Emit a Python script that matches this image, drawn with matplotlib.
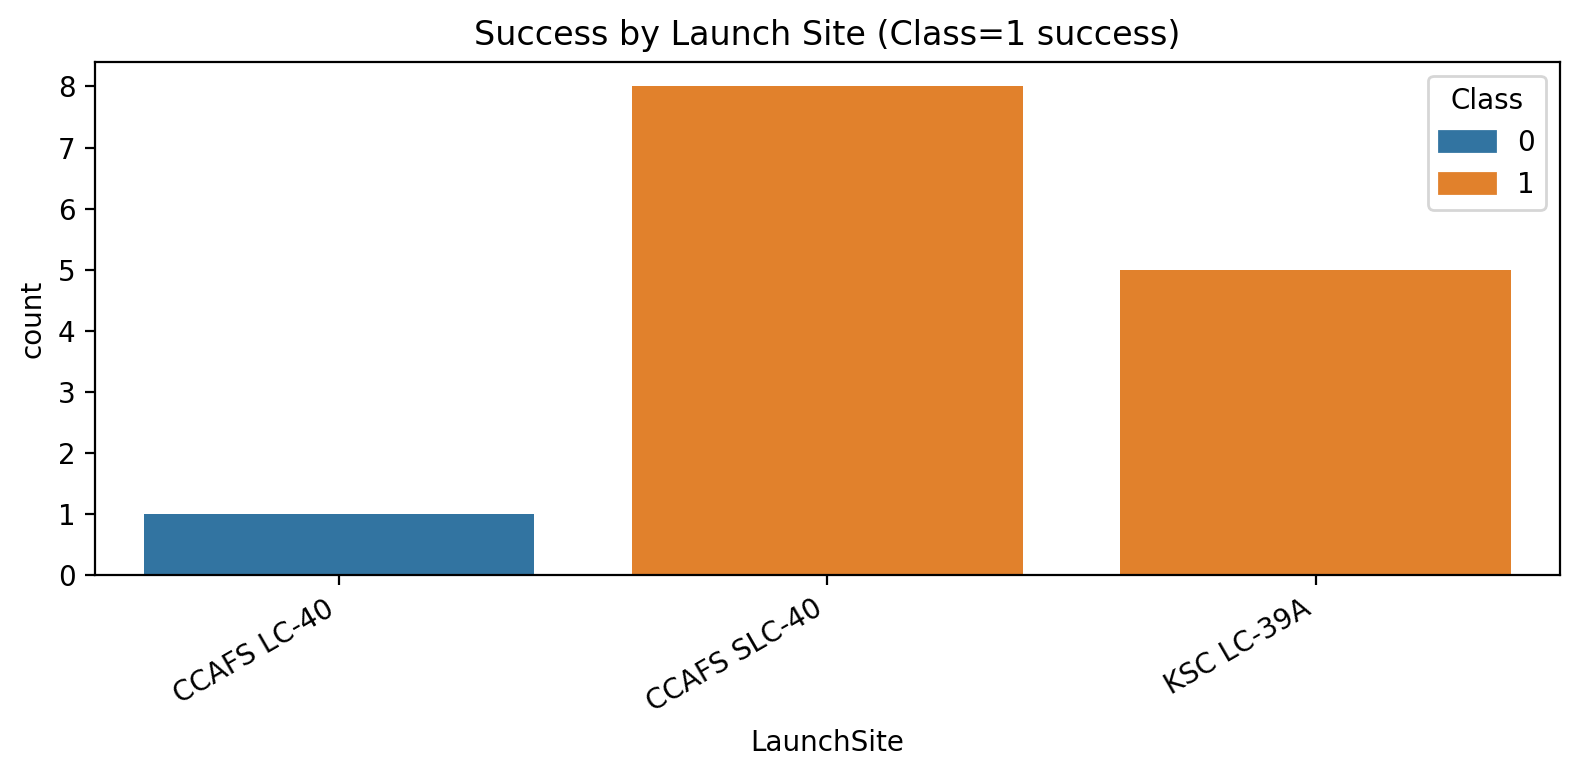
import matplotlib
matplotlib.use("Agg")
import matplotlib.pyplot as plt
from matplotlib.patches import Patch

sites = ["CCAFS LC-40", "CCAFS SLC-40", "KSC LC-39A"]
classes = [0, 1, 1]
counts = [1, 8, 5]
class_levels = [0, 1]
palette = {0: "#3274a1", 1: "#e1812c"}

fig = plt.figure(figsize=(7.9, 3.89), dpi=200)
ax = fig.add_axes([0.0601, 0.2609, 0.9272, 0.6594])
x = list(range(len(sites)))
ax.bar(x, counts, width=0.8, color=[palette[c] for c in classes])
ax.set_xticks(x)
ax.set_xticklabels(sites, rotation=30, ha="right")
ax.set_xlim(-0.5, len(sites) - 0.5)
ax.set_ylim(0, 8.4)
ax.set_xlabel("LaunchSite")
ax.set_ylabel("count")
ax.set_title("Success by Launch Site (Class=1 success)")
handles = [Patch(color=palette[c], label=str(c)) for c in class_levels]
ax.legend(handles=handles, title="Class", loc="upper right")
fig.savefig("out.png", dpi=200)
